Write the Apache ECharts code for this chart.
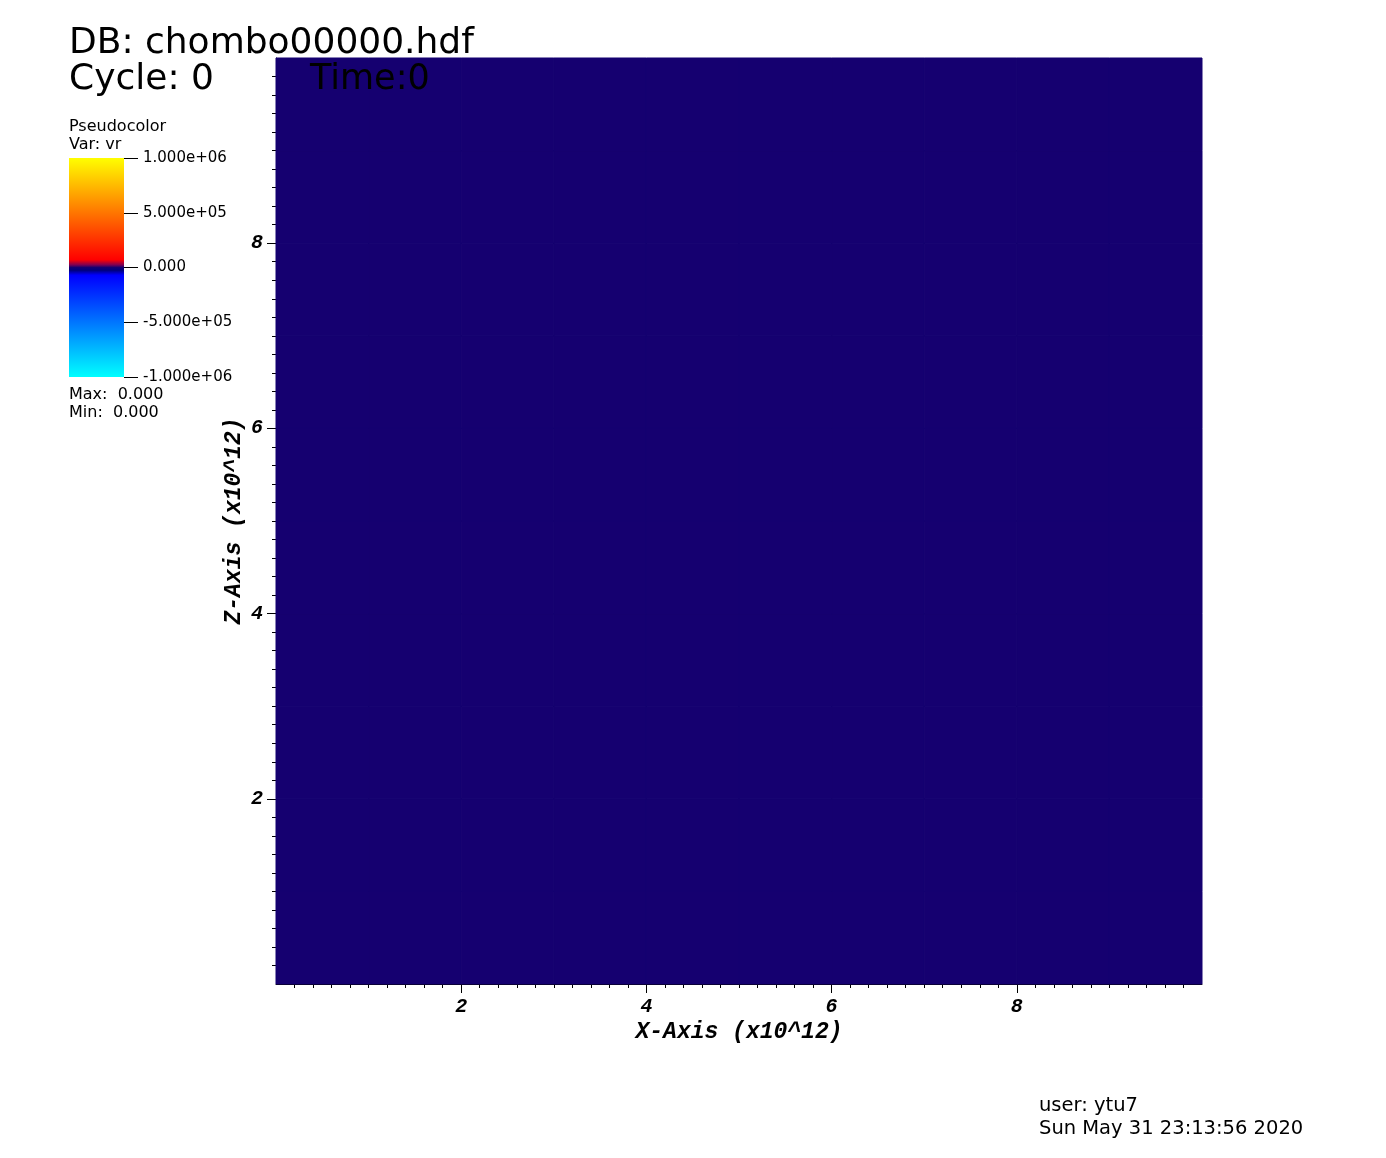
<!DOCTYPE html>
<html>
<head>
<meta charset="utf-8">
<script src="https://cdn.jsdelivr.net/npm/echarts@6/dist/echarts.min.js"></script>
<style>
html,body{margin:0;padding:0;background:#fff;}
#chart{width:1386px;height:1158px;}
</style>
</head>
<body>
<div id="chart"></div>
<script>
// ---- data ----
const dbName = 'DB: chombo00000.hdf';
const cycleText = 'Cycle: 0';
const timeText = 'Time:0';
const varName = 'vr';
const dataMax = 0.0;
const dataMin = 0.0;
const userText = 'user: ytu7';
const dateText = 'Sun May 31 23:13:56 2020';

// cell edges along X and Z (x10^12), one cell per unit
const xEdges = [0, 1, 2, 3, 4, 5, 6, 7, 8, 9, 10];
const zEdges = [0, 1, 2, 3, 4, 5, 6, 7, 8, 9, 10];
// vr values per cell (rows = z, cols = x); the field is uniformly 0
const vrValues = [
  [0, 0, 0, 0, 0, 0, 0, 0, 0, 0],
  [0, 0, 0, 0, 0, 0, 0, 0, 0, 0],
  [0, 0, 0, 0, 0, 0, 0, 0, 0, 0],
  [0, 0, 0, 0, 0, 0, 0, 0, 0, 0],
  [0, 0, 0, 0, 0, 0, 0, 0, 0, 0],
  [0, 0, 0, 0, 0, 0, 0, 0, 0, 0],
  [0, 0, 0, 0, 0, 0, 0, 0, 0, 0],
  [0, 0, 0, 0, 0, 0, 0, 0, 0, 0],
  [0, 0, 0, 0, 0, 0, 0, 0, 0, 0],
  [0, 0, 0, 0, 0, 0, 0, 0, 0, 0]
];

const axisTickValues = [2, 4, 6, 8];
const colorbarTickValues = [1e6, 5e5, 0, -5e5, -1e6];
const colorbarTickLabels = ['1.000e+06', '5.000e+05', '0.000', '-5.000e+05', '-1.000e+06'];
const colorbarMin = -1e6;
const colorbarMax = 1e6;
// colour table: [value, colour]
const colorStops = [
  [-1e6, '#00ffff'],
  [-7e4, '#0000ff'],
  [-2.5e4, '#00007c'],
  [0, '#150070'],
  [2.5e4, '#820050'],
  [7e4, '#ff0000'],
  [1e6, '#ffff00']
];

// ---- helpers ----
function hexToRgb(h){ return [parseInt(h.substr(1,2),16), parseInt(h.substr(3,2),16), parseInt(h.substr(5,2),16)]; }
function colorAt(v){
  if (v <= colorStops[0][0]) return colorStops[0][1];
  for (let i = 1; i < colorStops.length; i++) {
    if (v <= colorStops[i][0]) {
      const a = colorStops[i-1], b = colorStops[i];
      const t = (v - a[0]) / (b[0] - a[0]);
      const ca = hexToRgb(a[1]), cb = hexToRgb(b[1]);
      const c = ca.map((x, k) => Math.round(x + (cb[k] - x) * t));
      return 'rgb(' + c.join(',') + ')';
    }
  }
  return colorStops[colorStops.length-1][1];
}
const nSamples = 401;
const palette = [];
for (let i = 0; i < nSamples; i++) {
  palette.push(colorAt(colorbarMin + (colorbarMax - colorbarMin) * i / (nSamples - 1)));
}

const cells = [];
for (let j = 0; j < zEdges.length - 1; j++) {
  for (let i = 0; i < xEdges.length - 1; i++) {
    cells.push([xEdges[i], zEdges[j], xEdges[i+1], zEdges[j+1], vrValues[j][i]]);
  }
}

const monoFont = 'Liberation Mono';
const sansFont = 'DejaVu Sans';

const chart = echarts.init(document.getElementById('chart'), null, {renderer: 'canvas'});

const axisTextStyle = {color: '#000', fontFamily: monoFont, fontWeight: 'bold', fontStyle: 'italic'};

const option = {
  backgroundColor: '#ffffff',
  animation: false,
  grid: [
    {left: 276, top: 58, width: 926, height: 926, containLabel: false},
    {left: 69, top: 158, width: 55, height: 219, containLabel: false}
  ],
  xAxis: [
    {
      type: 'value', gridIndex: 0, min: 0, max: 10, interval: 2,
      axisLine: {show: true, onZero: false, lineStyle: {color: '#000', width: 1}},
      axisTick: {show: true, length: 9, customValues: axisTickValues, lineStyle: {color: '#000'}},
      minorTick: {show: true, splitNumber: 10, length: 4, lineStyle: {color: '#000'}},
      splitLine: {show: false},
      axisLabel: Object.assign({margin: 13, fontSize: 20, customValues: axisTickValues,
        formatter: v => axisTickValues.indexOf(v) >= 0 ? String(v) : ''}, axisTextStyle),
      name: 'X-Axis (x10^12)', nameLocation: 'middle', nameGap: 37, nameMoveOverlap: false,
      nameTextStyle: Object.assign({fontSize: 23}, axisTextStyle)
    },
    {type: 'value', gridIndex: 1, min: 0, max: 1, show: false}
  ],
  yAxis: [
    {
      type: 'value', gridIndex: 0, min: 0, max: 10, interval: 2,
      axisLine: {show: true, onZero: false, lineStyle: {color: '#000', width: 1}},
      axisTick: {show: true, length: 9, customValues: axisTickValues, lineStyle: {color: '#000'}},
      minorTick: {show: true, splitNumber: 10, length: 4, lineStyle: {color: '#000'}},
      splitLine: {show: false},
      axisLabel: Object.assign({margin: 13, fontSize: 20, customValues: axisTickValues,
        formatter: v => axisTickValues.indexOf(v) >= 0 ? String(v) : ''}, axisTextStyle),
      name: 'Z-Axis (x10^12)', nameLocation: 'middle', nameGap: 30, nameRotate: 90, nameMoveOverlap: false,
      nameTextStyle: Object.assign({fontSize: 23}, axisTextStyle)
    },
    {
      type: 'value', gridIndex: 1, min: colorbarMin, max: colorbarMax, interval: 5e5, position: 'right',
      axisLine: {show: false, onZero: false},
      axisTick: {show: true, length: 14, lineStyle: {color: '#000'}},
      splitLine: {show: false},
      axisLabel: {
        margin: 19, color: '#000', fontFamily: sansFont, fontSize: 15,
        formatter: v => { const k = colorbarTickValues.indexOf(v); return k >= 0 ? colorbarTickLabels[k] : ''; }
      }
    }
  ],
  visualMap: {
    show: false, type: 'continuous', seriesIndex: 0, dimension: 4,
    min: colorbarMin, max: colorbarMax, inRange: {color: palette}
  },
  series: [
    {
      type: 'custom', xAxisIndex: 0, yAxisIndex: 0, z: 1,
      data: cells,
      renderItem: function (params, api) {
        const p0 = api.coord([api.value(0), api.value(3)]);
        const p1 = api.coord([api.value(2), api.value(1)]);
        const c = api.visual('color');
        return {
          type: 'rect',
          shape: {x: p0[0], y: p0[1], width: p1[0] - p0[0], height: p1[1] - p0[1]},
          style: {fill: c, stroke: c, lineWidth: 1}
        };
      }
    },
    {
      type: 'custom', xAxisIndex: 1, yAxisIndex: 1, z: 1,
      data: [[0, colorbarMin, 1, colorbarMax]],
      renderItem: function (params, api) {
        const p0 = api.coord([api.value(0), api.value(3)]);
        const p1 = api.coord([api.value(2), api.value(1)]);
        const span = colorbarMax - colorbarMin;
        const stops = colorStops.map(s => ({offset: (s[0] - colorbarMin) / span, color: s[1]}));
        return {
          type: 'rect',
          shape: {x: p0[0], y: p0[1], width: p1[0] - p0[0], height: p1[1] - p0[1]},
          style: {fill: new echarts.graphic.LinearGradient(0, 1, 0, 0, stops)}
        };
      }
    }
  ],
  graphic: [
    {type: 'text', left: 69, top: 26, style: {text: dbName, fill: '#000', font: '36px "' + sansFont + '"'}},
    {type: 'text', left: 69, top: 62, style: {text: cycleText, fill: '#000', font: '36px "' + sansFont + '"'}},
    {type: 'text', left: 310, top: 62, z: 10, style: {text: timeText, fill: '#000', font: '35px "' + sansFont + '"'}},
    {type: 'text', left: 69, top: 119, style: {text: 'Pseudocolor', fill: '#000', font: '16px "' + sansFont + '"'}},
    {type: 'text', left: 69, top: 137, style: {text: 'Var: ' + varName, fill: '#000', font: '16px "' + sansFont + '"'}},
    {type: 'text', left: 69, top: 387, style: {text: 'Max:  ' + dataMax.toFixed(3), fill: '#000', font: '16px "' + sansFont + '"'}},
    {type: 'text', left: 69, top: 405, style: {text: 'Min:  ' + dataMin.toFixed(3), fill: '#000', font: '16px "' + sansFont + '"'}},
    {type: 'text', left: 1039, top: 1096, style: {text: userText, fill: '#000', font: '19.5px "' + sansFont + '"'}},
    {type: 'text', left: 1039, top: 1119, style: {text: dateText, fill: '#000', font: '19.5px "' + sansFont + '"'}}
  ]
};
chart.setOption(option);
</script>
</body>
</html>
